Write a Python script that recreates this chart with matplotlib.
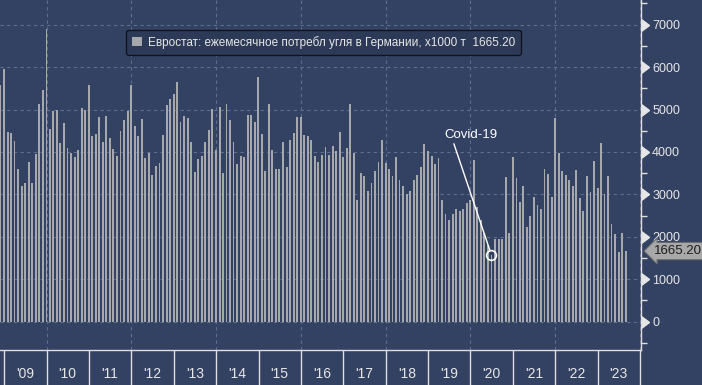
import numpy as np
import pandas as pd
import matplotlib
matplotlib.use('Agg')
import matplotlib.pyplot as plt
import matplotlib.dates as mdates
from matplotlib.ticker import FixedLocator, MultipleLocator

plt.rcParams['font.family'] = ['Liberation Sans', 'DejaVu Sans']

# месячные данные (конец месяца), тыс. т
months = pd.date_range('2008-11-30', '2023-08-31', freq='ME')
coal = [
    5575, 5950,
    4465, 4440, 4250, 3590, 3200, 3260, 3760, 3260, 3950, 5130, 5460, 6900,  # 2009
    4540, 4970, 5000, 4200, 4680, 4090, 3980, 3880, 4040, 5030, 4980, 5570,  # 2010
    4370, 4420, 4820, 4230, 4840, 4320, 4060, 3900, 4490, 4750, 4960, 5570,  # 2011
    4610, 4370, 4770, 3850, 3970, 3450, 3660, 3730, 4390, 5100, 5240, 5360,  # 2012
    5650, 4700, 4840, 4800, 4230, 3520, 3830, 3900, 4230, 4510, 5010, 4040,  # 2013
    5060, 3500, 5130, 4750, 4230, 3710, 3900, 3870, 4870, 4870, 4700, 5760,  # 2014
    4420, 3540, 5130, 4040, 3590, 3610, 4230, 3650, 4280, 4440, 4820, 4820,  # 2015
    4390, 4370, 4280, 3900, 3760, 3940, 4110, 3920, 4130, 4020, 4460, 3870,  # 2016
    4090, 5130, 3970, 2880, 3500, 3430, 3070, 3260, 3540, 3760, 4280, 3730,  # 2017
    3590, 3430, 3870, 3350, 3210, 3000, 3070, 3330, 3450, 3640, 4180, 4020,  # 2018
    3900, 3710, 3850, 2860, 2550, 2390, 2530, 2650, 2620, 2650, 2790, 2860,  # 2019
    3800, 2700, 2400, 2100, 1800, 1570, 1950, 1940, 1950, 3400, 2080, 3870,  # 2020
    3380, 2830, 3210, 2240, 2500, 2950, 2740, 2650, 3590, 3470, 2930, 4800,  # 2021
    3980, 3540, 3450, 3350, 3210, 3570, 2910, 2600, 3430, 3050, 3780, 3140,  # 2022
    4200, 3000, 3430, 2310, 2060, 1650, 2080, 1665.2,                        # 2023
]
last_value = 1665.20
covid_month = '2020-06-30'
years = list(range(2009, 2025))
label = 'Евростат: ежемесячное потребл угля в Германии, х1000 т  1665.20'

bg = '#334262'
grid_c = '#5e6e8f'
bar_c = '#a6a8ac'
txt_c = '#e6e6e6'

fig = plt.figure(figsize=(7.02, 3.85), dpi=100, facecolor=bg)
ax = fig.add_axes([0, 1 - 350 / 385, 641 / 702, 350 / 385])
ax.set_facecolor(bg)

bars = ax.bar(months, coal, width=16, color=bar_c, zorder=3)

ax.set_xlim(pd.Timestamp('2008-11-26'), pd.Timestamp('2024-01-09'))
ax.set_ylim(-667, 7582)

# сетка
ax.yaxis.set_major_locator(MultipleLocator(1000))
ax.yaxis.set_minor_locator(MultipleLocator(500))
ax.grid(axis='y', which='major', color=grid_c, ls=(0, (3, 3)), lw=0.8, zorder=1)
for y in years:
    if y % 2 == 0:
        ax.axvline(pd.Timestamp(f'{y}-01-01'), color=grid_c, ls=(0, (3, 3)), lw=0.8, zorder=1)

# оси
for s in ['left', 'top']:
    ax.spines[s].set_visible(False)
for s in ['right', 'bottom']:
    ax.spines[s].set_color('#e0e0e0')
    ax.spines[s].set_linewidth(1)

ax.yaxis.tick_right()
ax.tick_params(axis='y', which='major', colors=txt_c, labelsize=9, length=8, width=1, pad=0)
ax.tick_params(axis='y', which='minor', colors='#e0e0e0', length=4, width=1)
for t in ax.yaxis.get_major_ticks():
    t.tick2line.set_marker(9)
ax.yaxis.set_major_formatter(lambda v, p: f'{v:.0f}')

ax.xaxis.set_major_locator(FixedLocator([mdates.date2num(pd.Timestamp(f'{y}-01-01')) for y in years]))
ax.xaxis.set_minor_locator(FixedLocator([mdates.date2num(pd.Timestamp(f'{y}-07-02')) for y in years[:-1]]))
ax.xaxis.set_major_formatter(lambda v, p: '')
ax.xaxis.set_minor_formatter(mdates.DateFormatter("'%y"))
ax.tick_params(axis='x', which='major', colors='#e0e0e0', length=26, width=1)
ax.tick_params(axis='x', which='minor', colors=txt_c, length=0, labelsize=10, pad=12)

# легенда
leg = ax.legend([bars], [label], loc='upper left', bbox_to_anchor=(0.197, 0.914),
                borderaxespad=0, fancybox=True, framealpha=1, facecolor='#2d3a57',
                edgecolor='#10141c', handlelength=0.8, handleheight=0.8,
                handletextpad=0.5, borderpad=0.5, prop={'size': 8.5}, labelcolor=txt_c)
leg.get_frame().set_linewidth(1)
leg.set_zorder(6)

# Covid-19
covid_x = pd.Timestamp(covid_month)
covid_y = coal[list(months).index(covid_x)]
ax.annotate('Covid-19', xy=(covid_x, covid_y), xytext=(pd.Timestamp('2020-01-01'), 4400),
            ha='center', va='center', color='white', fontsize=9.5, zorder=5,
            arrowprops=dict(arrowstyle='-', color='white', lw=1, relpos=(0.17, 0), shrinkA=0, shrinkB=4))
ax.plot([covid_x], [covid_y], 'o', mfc='none', mec='white', mew=1.2, ms=7, zorder=5)

# метка последнего значения
ax.annotate(f'{last_value:.2f}', xy=(1, last_value), xycoords=('axes fraction', 'data'),
            xytext=(9, 0), textcoords='offset points', ha='left', va='center',
            fontsize=9.5, color='#1c1c1c', zorder=7, annotation_clip=False,
            bbox=dict(boxstyle='larrow,pad=0.2', fc='#a8a8a8', ec='#6c6c6c', lw=0.8))

fig.savefig('out.png', dpi=100, facecolor=bg)
